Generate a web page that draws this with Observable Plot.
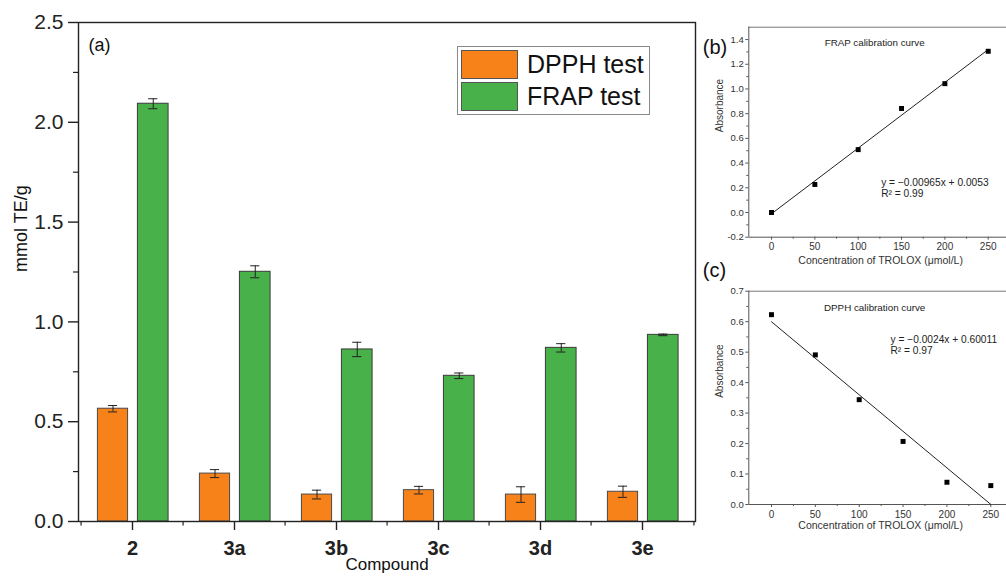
<!DOCTYPE html>
<html>
<head>
<meta charset="utf-8">
<script src="https://cdn.jsdelivr.net/npm/d3@7"></script>
<script src="https://cdn.jsdelivr.net/npm/@observablehq/plot@0.6"></script>
<style>
  html, body { margin: 0; padding: 0; background: #fff; }
  #wrap { position: relative; width: 1006px; height: 578px; overflow: hidden; font-family: "Liberation Sans", Arial, sans-serif; }
  #wrap > div.p { position: absolute; }
  .legend { position: absolute; left: 457px; top: 46px; width: 191px; height: 67px; border: 1px solid #8a8a8a; background: #fff; }
  .legend .sw { position: absolute; left: 3px; width: 55px; height: 27px; border: 1px solid #555; }
  .legend .lb { position: absolute; left: 69px; font-size: 25px; color: #111; line-height: 25px; }
</style>
</head>
<body>
<div id="wrap">
  <div class="p" id="pa" style="left:0;top:0"></div>
  <div class="p" id="pb" style="left:700px;top:0"></div>
  <div class="p" id="pc" style="left:700px;top:245px"></div>
  <div class="legend">
    <div class="sw" style="top:3px;background:#F8821A"></div>
    <div class="lb" style="top:5px">DPPH test</div>
    <div class="sw" style="top:35px;background:#48B14A"></div>
    <div class="lb" style="top:37px">FRAP test</div>
  </div>
</div>
<script>
// ---------- data ----------
const compounds = ["2", "3a", "3b", "3c", "3d", "3e"];
const dpph      = [0.565, 0.240, 0.135, 0.157, 0.135, 0.149];
const dpphErr   = [0.016, 0.020, 0.022, 0.019, 0.039, 0.028];
const frap      = [2.093, 1.251, 0.862, 0.730, 0.870, 0.935];
const frapErr   = [0.025, 0.030, 0.036, 0.014, 0.021, 0.004];
const yTicksA   = [0, 0.5, 1.0, 1.5, 2.0, 2.5];
const yMinorA   = [0.25, 0.75, 1.25, 1.75, 2.25];

const trolox    = [0, 50, 100, 150, 200, 250];
const frapAbs   = [0.0, 0.227, 0.509, 0.842, 1.043, 1.305];
const dpphAbs   = [0.623, 0.491, 0.344, 0.207, 0.073, 0.062];
const xTicksCal = [0, 50, 100, 150, 200, 250];
const xMinorCal = [25, 75, 125, 175, 225];
const yTicksB   = [-0.2, 0, 0.2, 0.4, 0.6, 0.8, 1.0, 1.2, 1.4];
const yMinorB   = [-0.1, 0.1, 0.3, 0.5, 0.7, 0.9, 1.1, 1.3];
const yTicksC   = [0, 0.1, 0.2, 0.3, 0.4, 0.5, 0.6, 0.7];
const yMinorC   = [0.05, 0.15, 0.25, 0.35, 0.45, 0.55, 0.65];

const FONT = '"Liberation Sans", Arial, sans-serif';
const ORANGE = "#F8821A", GREEN = "#48B14A";

// ---------- panel (a) ----------
const rowsA = compounds.map((c, i) => ({
  compound: c, dpph: dpph[i], dLo: dpph[i] - dpphErr[i], dHi: dpph[i] + dpphErr[i],
  frap: frap[i], fLo: frap[i] - frapErr[i], fHi: frap[i] + frapErr[i]
}));
const mlA = 78, mrA = 15, wA = 710;
const half = (wA - mlA - mrA) / compounds.length / 2;
// bar extents relative to band centre
const oL = -35, oR = -4, gL = 5, gR = 36.5, cap = 5;
const oC = (oL + oR) / 2, gC = (gL + gR) / 2;
const ins = (l, r) => ({insetLeft: half + l, insetRight: half - r});

const plotA = Plot.plot({
  width: wA, height: 578,
  marginLeft: mlA, marginRight: mrA, marginTop: 22, marginBottom: 57,
  x: {domain: compounds, padding: 0},
  y: {domain: [0, 2.5]},
  style: {fontFamily: FONT, color: "#222", background: "transparent"},
  marks: [
    Plot.barY(rowsA, {x: "compound", y: "dpph", fill: ORANGE, stroke: "#4a4a4a", strokeWidth: 1, ...ins(oL, oR)}),
    Plot.barY(rowsA, {x: "compound", y: "frap", fill: GREEN, stroke: "#3a3a3a", strokeWidth: 1, ...ins(gL, gR)}),
    Plot.ruleX(rowsA, {x: "compound", y1: "dLo", y2: "dHi", dx: oC, stroke: "#222", strokeWidth: 1}),
    Plot.ruleX(rowsA, {x: "compound", y1: "fLo", y2: "fHi", dx: gC, stroke: "#222", strokeWidth: 1}),
    Plot.tickY(rowsA, {x: "compound", y: "dLo", stroke: "#222", ...ins(oC - cap, oC + cap)}),
    Plot.tickY(rowsA, {x: "compound", y: "dHi", stroke: "#222", ...ins(oC - cap, oC + cap)}),
    Plot.tickY(rowsA, {x: "compound", y: "fLo", stroke: "#222", ...ins(gC - cap, gC + cap)}),
    Plot.tickY(rowsA, {x: "compound", y: "fHi", stroke: "#222", ...ins(gC - cap, gC + cap)}),
    Plot.frame({stroke: "#222", strokeWidth: 1.4}),
    Plot.axisY({ticks: yTicksA, tickSize: 10, tickPadding: 5, fontSize: 21, tickFormat: d => d.toFixed(1), label: null, strokeWidth: 1.4}),
    Plot.axisY({ticks: yMinorA, tickSize: 5, tickFormat: () => "", label: null, strokeWidth: 1.2}),
    Plot.axisX({tickSize: 9, tickPadding: 10, fontSize: 20, fontWeight: "bold", label: null, strokeWidth: 1.4}),
    Plot.ruleX(compounds, {x: d => d, dx: -half, y1: 0, y2: -0.022, stroke: "#222", strokeWidth: 1.2}),
    Plot.ruleX(compounds.slice(-1), {x: d => d, dx: half, y1: 0, y2: -0.022, stroke: "#222", strokeWidth: 1.2}),
    Plot.text(["(a)"], {frameAnchor: "top-left", dx: 10, dy: 16, fontSize: 18, fill: "#111"}),
    Plot.text(["mmol TE/g"], {frameAnchor: "left", dx: -57, rotate: -90, fontSize: 18, fill: "#111"}),
    Plot.text(["Compound"], {frameAnchor: "bottom", dy: 48, fontSize: 17, fill: "#111"})
  ]
});
document.getElementById("pa").appendChild(plotA);

// ---------- calibration panels ----------
const GRAY = "#555";
function calPanel({abs, yDomain, xDomain, yTicks, yMinor, mt, mb, height, label, title, eq, titleDy, eqDx, eqDy, xtDy, panelDy, fmt}) {
  const rows = trolox.map((t, i) => ({t, a: abs[i]}));
  return Plot.plot({
    width: 306, height,
    marginLeft: 48.3, marginRight: 0, marginTop: mt, marginBottom: mb,
    x: {domain: xDomain},
    y: {domain: yDomain},
    style: {fontFamily: FONT, color: "#333", background: "transparent"},
    marks: [
      Plot.ruleY([yDomain[1]], {stroke: "#777", strokeWidth: 1}),
      Plot.ruleY([yDomain[0]], {stroke: GRAY, strokeWidth: 1}),
      Plot.ruleX([xDomain[0]], {stroke: GRAY, strokeWidth: 1}),
      Plot.axisY({ticks: yTicks, tickSize: 3, tickPadding: 2, fontSize: 9.5, tickFormat: fmt, label: null, stroke: GRAY}),
      Plot.axisY({ticks: yMinor, tickSize: 2, tickFormat: () => "", label: null, stroke: GRAY}),
      Plot.axisX({ticks: xTicksCal, tickSize: 3, tickPadding: 3, fontSize: 10, label: null, stroke: GRAY}),
      Plot.axisX({ticks: xMinorCal, tickSize: 2, tickFormat: () => "", label: null, stroke: GRAY}),
      Plot.linearRegressionY(rows, {x: "t", y: "a", stroke: "#222", strokeWidth: 1, ci: 0}),
      Plot.dot(rows, {x: "t", y: "a", symbol: "square", r: 2.8, fill: "#000"}),
      Plot.text([title], {frameAnchor: "top", dx: -3, dy: titleDy, fontSize: 9.8, fill: "#222"}),
      Plot.text([eq], {frameAnchor: "top-left", dx: eqDx, dy: eqDy, textAnchor: "start", lineAnchor: "top", lineHeight: 1.15, fontSize: 10.2, fill: "#222"}),
      Plot.text(["Absorbance"], {frameAnchor: "left", dx: -29, rotate: -90, fontSize: 10, fill: "#333"}),
      Plot.text(["Concentration of TROLOX (μmol/L)"], {frameAnchor: "bottom", dx: 3, dy: xtDy, fontSize: 10.5, fill: "#333"}),
      Plot.text([label], {frameAnchor: "top-left", dx: -46, dy: panelDy, textAnchor: "start", fontSize: 20, fill: "#111"})
    ]
  });
}

const plotB = calPanel({
  abs: frapAbs, yDomain: [-0.2, 1.5], xDomain: [-26.2, 271.1],
  yTicks: yTicksB, yMinor: yMinorB, mt: 26.7, mb: 43.3, height: 280,
  label: "(b)", title: "FRAP calibration curve",
  eq: "y = −0.00965x + 0.0053\nR² = 0.99",
  titleDy: 12.3, eqDx: 132.4, eqDy: 150, xtDy: 26.5, panelDy: 13,
  fmt: d => d.toFixed(1)
});
document.getElementById("pb").appendChild(plotB);

const plotC = calPanel({
  abs: dpphAbs, yDomain: [0, 0.7], xDomain: [-25.85, 267.9],
  yTicks: yTicksC, yMinor: yMinorC, mt: 45.7, mb: 74, height: 333,
  label: "(c)", title: "DPPH calibration curve",
  eq: "y = −0.0024x + 0.60011\nR² = 0.97",
  titleDy: 12.6, eqDx: 141.7, eqDy: 43, xtDy: 24, panelDy: -28,
  fmt: d => d.toFixed(1)
});
document.getElementById("pc").appendChild(plotC);
</script>
</body>
</html>
